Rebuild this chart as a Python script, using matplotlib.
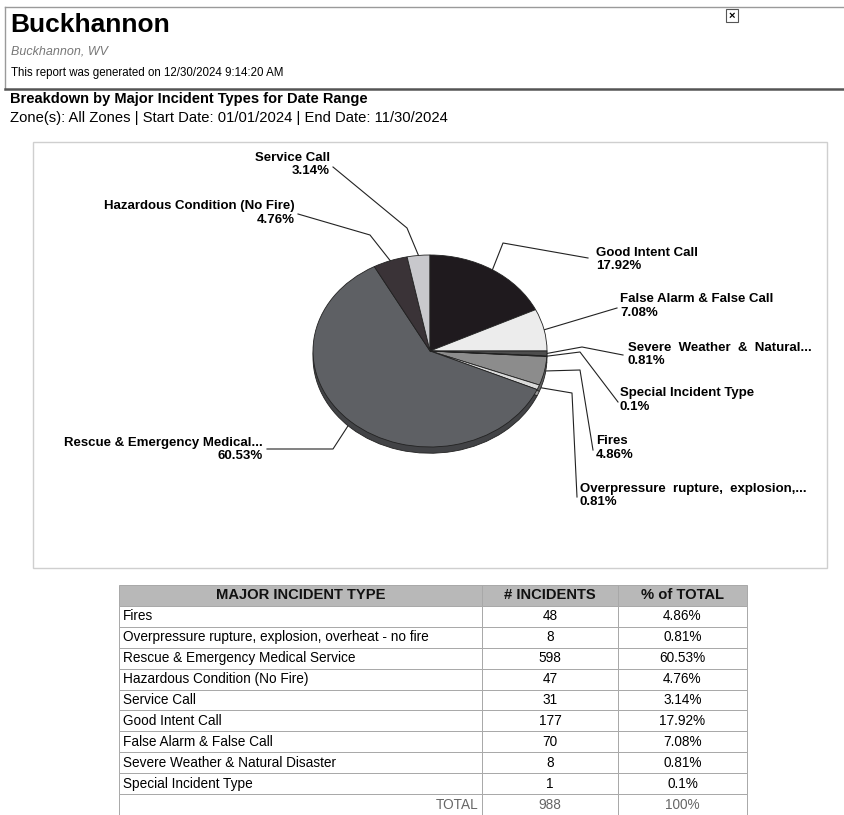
"""
Buckhannon incident breakdown - pie chart plus summary table.
"""

import matplotlib
matplotlib.use("Agg")
import matplotlib.pyplot as plt
import matplotlib.colors as mcolors
import numpy as np

plt.rcParams["font.family"] = ["Liberation Sans", "DejaVu Sans"]

# data (table order; the pie goes clockwise in the same order)
INCIDENT_TYPES = [
    "Fires",
    "Overpressure rupture, explosion, overheat - no fire",
    "Rescue & Emergency Medical Service",
    "Hazardous Condition (No Fire)",
    "Service Call",
    "Good Intent Call",
    "False Alarm & False Call",
    "Severe Weather & Natural Disaster",
    "Special Incident Type",
]
PIE_LABELS = [
    "Fires",
    "Overpressure  rupture,  explosion,...",
    "Rescue & Emergency Medical...",
    "Hazardous Condition (No Fire)",
    "Service Call",
    "Good Intent Call",
    "False Alarm & False Call",
    "Severe  Weather  &  Natural...",
    "Special Incident Type",
]
INCIDENTS = [48, 8, 598, 47, 31, 177, 70, 8, 1]
PCT_TEXT = ["4.86%", "0.81%", "60.53%", "4.76%", "3.14%",
            "17.92%", "7.08%", "0.81%", "0.1%"]
TOTAL_COUNT = "988"
TOTAL_PCT = "100%"

SLICE_COLORS = ["#8c8c8c", "#dadada", "#5e6064", "#3a3337", "#c8c8cc",
                "#1f1a1e", "#ececec", "#4d4d4d", "#bdbdbd"]

W, H = 844, 815
fig = plt.figure(figsize=(W / 100, H / 100), dpi=100)
fig.patch.set_facecolor("white")

# overlay axes in pixel coordinates for header, box and leader lines
ov = fig.add_axes([0, 0, 1, 1], zorder=0)
ov.set_xlim(0, W)
ov.set_ylim(H, 0)
ov.axis("off")

# ---- header ----
ov.plot([5, W], [7, 7], color="#9a9a9a", lw=1)
ov.plot([5, 5], [7, 89], color="#9a9a9a", lw=1)
ov.plot([5, W], [89, 89], color="#555555", lw=1.8)
ov.add_patch(plt.Rectangle((726, 9), 12, 13, fill=False, ec="#555555", lw=0.8))
ov.text(732, 15.5, "×", ha="center", va="center", fontsize=8, fontweight="bold")

ov.text(10, 32, "Buckhannon", fontsize=19, fontweight="bold", va="baseline")
ov.text(11, 51, "Buckhannon, WV", fontsize=9, style="italic", color="#777777",
        va="center")
ov.text(11, 73, "This report was generated on 12/30/2024 9:14:20 AM",
        fontsize=8.3, va="center")
ov.text(10, 99, "Breakdown by Major Incident Types for Date Range",
        fontsize=10.5, fontweight="bold", va="center")
ov.text(10, 118, "Zone(s): All Zones | Start Date: 01/01/2024 | End Date: 11/30/2024",
        fontsize=10.6, va="center")

# chart frame
ov.add_patch(plt.Rectangle((33, 142), 794, 426, fill=False, ec="#cfcfcf", lw=1))

# ---- pie ----
CX, CY, RX, RY = 430, 351, 117, 96
DEPTH = 0.065
pie_ax = fig.add_axes([(CX - RX) / W,
                       (H - CY - RY * (1 + DEPTH)) / H,
                       2 * RX / W,
                       RY * (2 + DEPTH) / H], zorder=2)

counts = np.array(INCIDENTS, dtype=float)
# start so that "Good Intent Call" begins at 12 o'clock
start = 90 - 360 * counts[5:].sum() / counts.sum()

side_colors = [tuple(c * 0.7 for c in mcolors.to_rgb(col)) for col in SLICE_COLORS]
pie_ax.pie(counts, colors=side_colors, startangle=start, counterclock=False,
           center=(0, -DEPTH), radius=1,
           wedgeprops=dict(edgecolor="#222222", linewidth=0.6))
wedges, _ = pie_ax.pie(counts, colors=SLICE_COLORS, startangle=start,
                       counterclock=False, center=(0, 0), radius=1,
                       wedgeprops=dict(edgecolor="#222222", linewidth=0.6))
pie_ax.set_aspect("auto")
pie_ax.set_xlim(-1, 1)
pie_ax.set_ylim(-1 - DEPTH, 1)
pie_ax.axis("off")

# label layout: text position, alignment, elbow point, line end near text
LABEL_LAYOUT = [
    ((596, 448), "left", (580, 370), (593, 450)),    # Fires
    ((580, 495.5), "left", (572, 393), (577, 497)),  # Overpressure
    ((263, 449.5), "right", (333, 449), (267, 449)), # Rescue
    ((295, 213), "right", (370, 235), (298, 214)),   # Hazardous
    ((330, 164.5), "right", (407, 228), (333, 167)), # Service
    ((596, 259.5), "left", (503, 243), (588, 258)),  # Good Intent
    ((620, 306), "left", None, (617, 308)),          # False Alarm
    ((628, 354.5), "left", (582, 347), (623, 355)),  # Severe Weather
    ((620, 400), "left", (580, 352), (618, 402)),    # Special
]

for w, lab, pct, (tpos, ha, elbow, end) in zip(wedges, PIE_LABELS, PCT_TEXT,
                                               LABEL_LAYOUT):
    mid = np.deg2rad((w.theta1 + w.theta2) / 2)
    ax_pt = (CX + RX * np.cos(mid), CY - RY * np.sin(mid))
    pts = [ax_pt] + ([elbow] if elbow else []) + [end]
    xs, ys = zip(*pts)
    ov.plot(xs, ys, color="#222222", lw=0.8, zorder=3)
    ov.text(tpos[0], tpos[1], f"{lab}\n{pct}", ha=ha, va="center",
            fontsize=9.5, fontweight="bold", linespacing=1.15, zorder=3)

# ---- table ----
TX0, TX1, TY0, TY1 = 119, 747, 585, 815
tab_ax = fig.add_axes([TX0 / W, (H - TY1) / H, (TX1 - TX0) / W, (TY1 - TY0) / H],
                      zorder=2)
tab_ax.axis("off")

cell_text = [[t, str(n), p] for t, n, p in zip(INCIDENT_TYPES, INCIDENTS, PCT_TEXT)]
cell_text.append(["TOTAL", TOTAL_COUNT, TOTAL_PCT])
table = tab_ax.table(cellText=cell_text,
                     colLabels=["MAJOR INCIDENT TYPE", "# INCIDENTS", "% of TOTAL"],
                     colWidths=[363, 136, 129], bbox=[0, 0, 1, 1],
                     cellLoc="center")
table.auto_set_font_size(False)
table.set_fontsize(9.8)

n_rows = len(cell_text)
for (r, c), cell in table.get_celld().items():
    cell.set_edgecolor("#a8a8a8")
    cell.set_linewidth(0.7)
    cell.PAD = 0.01
    txt = cell.get_text()
    if r == 0:
        cell.set_facecolor("#b8b8b8")
        txt.set_fontweight("bold")
        txt.set_fontsize(10.6)
        txt.set_color("#111111")
    else:
        cell.set_facecolor("white")
        if c == 0:
            txt.set_horizontalalignment("left")
            cell._loc = "left"
        if r == n_rows:
            txt.set_color("#666666")
            if c == 0:
                cell._loc = "right"
                txt.set_horizontalalignment("right")

fig.savefig("out.png", dpi=100, facecolor="white")
